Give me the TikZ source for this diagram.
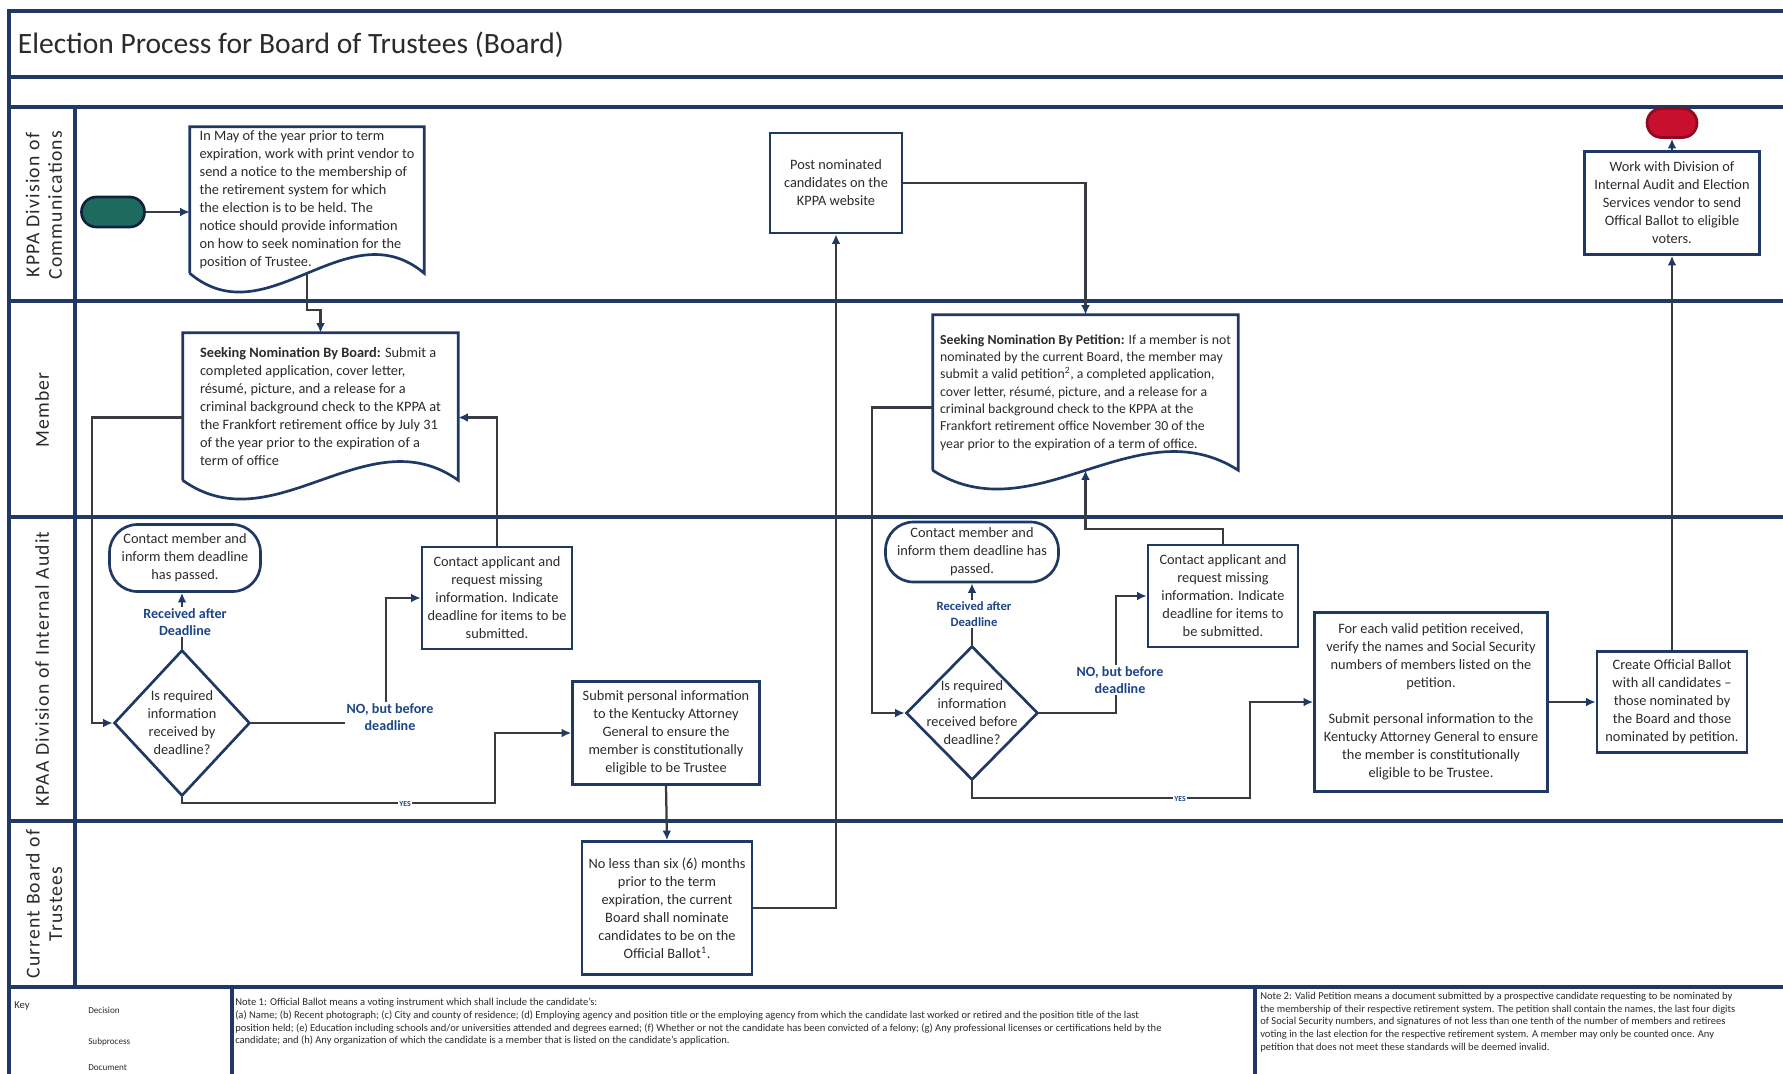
\documentclass[tikz,border=0pt]{standalone}
\usepackage{fontspec}
\setmainfont{Carlito}
\newfontfamily\lanefont[LetterSpace=6]{Carlito}
\usetikzlibrary{shapes.geometric,arrows.meta,calc}
\definecolor{navy}{HTML}{1F3864}
\definecolor{linec}{HTML}{383B42}
\definecolor{textc}{HTML}{2B2B2B}
\definecolor{lblblue}{HTML}{1C4587}
\definecolor{startgreen}{HTML}{1D6B5E}
\definecolor{endred}{HTML}{C8102E}

\begin{document}
\begin{tikzpicture}[x=0.25mm, y=-0.25mm,
    every node/.style={text=textc, font=\fontsize{10.2}{12.8}\selectfont},
    lane/.style={draw=navy, line width=2.2pt},
    box/.style={draw=navy, line width=1.9pt, fill=white, align=center, inner sep=1pt},
    doc/.style={align=left, inner sep=1pt},
    docline/.style={draw=navy, line width=1.9pt},
    term/.style={box, rounded corners=7mm},
    dec/.style={diamond, draw=navy, line width=1.9pt, fill=white, inner sep=0pt},
    lanelbl/.style={rotate=90, align=center, font=\lanefont\fontsize{14}{16}\selectfont},
    lbl/.style={fill=white, align=center, text=lblblue, inner sep=1pt, font=\bfseries\fontsize{10}{12.6}\selectfont},
    yeslbl/.style={lbl, font=\bfseries\fontsize{5.5}{6}\selectfont},
    flow/.style={draw=linec, line width=1.6pt, -{Latex[length=2.4mm, width=2.2mm, color=navy]}},
    note/.style={anchor=north west, align=left, inner sep=0pt, font=\fontsize{7.5}{9}\selectfont}]
  \useasboundingbox (0,0) rectangle (1783,1073);
  \fill[white] (0,0) rectangle (1783,1073);

  % Frame and swimlanes
  \draw[lane] (9,1080) -- (9,11) -- (1790,11);
  \draw[lane] (9,77) -- (1790,77);
  \draw[lane] (9,107) -- (1790,107);
  \foreach \yy in {301,517,821,987} {
    \draw[lane] (9,\yy) -- (1790,\yy);
  }
  \draw[lane] (75,107) -- (75,987);
  \draw[lane] (232,987) -- (232,1080);
  \draw[lane] (1255,987) -- (1255,1080);

  \node[anchor=west, font=\fontsize{21}{25}\selectfont] (title) at (13,45) {Election Process for Board of Trustees (Board)};

  \node[lanelbl] (lane1) at (44,205) {KPPA Division of\\Communications};
  \node[lanelbl] (lane2) at (42,410) {Member};
  \node[lanelbl] (lane3) at (42,669) {KPAA Division of Internal Audit};
  \node[lanelbl] (lane4) at (44,904) {Current Board of\\Trustees};

  % Nomination by the Board
  \node[term, fill=startgreen, draw=navy!60!black, minimum width=15.75mm, minimum height=7.5mm, rounded corners=3.7mm] (start) at (113,212) {};
  \node[doc, minimum width=58.5mm, minimum height=36.5mm] (doc1) at (307,200) {In May of the year prior to term\\expiration, work with print vendor to\\send a notice to the membership of\\the retirement system for which\\the election is to be held. The\\notice should provide information\\on how to seek nomination for the\\position of Trustee.};
  \node[doc, minimum width=68.75mm, minimum height=36.75mm] (doc2) at (320.5,406.5) {\textbf{Seeking Nomination By Board:} Submit a\\completed application, cover letter,\\résumé, picture, and a release for a\\criminal background check to the KPPA at\\the Frankfort retirement office by July 31\\of the year prior to the expiration of a\\term of office};
  \node[term, minimum width=37.75mm, minimum height=16.75mm] (term1) at (185,558) {Contact member and\\inform them deadline\\has passed.};
  \node[dec, minimum width=34mm, minimum height=36.5mm, label={[align=center]center:{Is required\\information\\received by\\deadline?}}] (dia1) at (182,723) {};
  \node[box, minimum width=37.5mm, minimum height=25.5mm] (cap1) at (497,598) {Contact applicant and\\request missing\\information. Indicate\\deadline for items to be\\submitted.};
  \node[box, minimum width=46.75mm, minimum height=25.75mm] (sub) at (666,733) {Submit personal information\\to the Kentucky Attorney\\General to ensure the\\member is constitutionally\\eligible to be Trustee};
  \node[box, minimum width=42.5mm, minimum height=33.25mm] (board) at (667,908) {No less than six (6) months\\prior to the term\\expiration, the current\\Board shall nominate\\candidates to be on the\\Official Ballot\textsuperscript{1}.};
  \node[box, minimum width=33mm, minimum height=25mm] (post) at (836,183) {Post nominated\\candidates on the\\KPPA website};

  % Nomination by petition
  \node[doc, font=\fontsize{9.8}{12.3}\selectfont, minimum width=76.25mm, minimum height=38.75mm] (doc3) at (1085.5,392.5) {\textbf{Seeking Nomination By Petition:} If a member is not\\nominated by the current Board, the member may\\submit a valid petition\textsuperscript{2}, a completed application,\\cover letter, résumé, picture, and a release for a\\criminal background check to the KPPA at the\\Frankfort retirement office  November 30 of the\\year prior to the expiration of a term of office.};
  \node[term, minimum width=43.25mm, minimum height=15mm] (term2) at (972,552) {Contact member and\\inform them deadline has\\passed.};
  \node[dec, minimum width=33mm, minimum height=33.5mm, label={[align=center]center:{Is required\\information\\received before\\deadline?}}] (dia2) at (972,713) {};
  \node[box, minimum width=37.5mm, minimum height=25.5mm] (cap2) at (1223,596) {Contact applicant and\\request missing\\information. Indicate\\deadline for items to\\be submitted.};
  \node[box, minimum width=58.25mm, minimum height=44.75mm] (each) at (1431,702) {For each valid petition received,\\verify the names and Social Security\\numbers of members listed on the\\petition.\\[12.8pt]Submit personal information to the\\Kentucky Attorney General to ensure\\the member is constitutionally\\eligible to be Trustee.};
  \node[box, minimum width=37.5mm, minimum height=25.25mm] (create) at (1672,702) {Create Official Ballot\\with all candidates --\\those nominated by\\the Board and those\\nominated by petition.};
  \node[box, minimum width=43.75mm, minimum height=25.75mm] (work) at (1672,203) {Work with Division of\\Internal Audit and Election\\Services vendor to send\\Offical Ballot to eligible\\voters.};
  \node[term, fill=endred, draw=endred!70!black, minimum width=12.5mm, minimum height=7.25mm, rounded corners=3.6mm] (end) at (1672,123) {};

  % Document outlines
  \foreach \d in {doc1,doc2,doc3} {
    \draw[docline] (\d.south west) -- (\d.north west) -- (\d.north east) -- (\d.south east)
      .. controls ($(\d.south east)!.33!(\d.south west)+(0,-65)$) and ($(\d.south east)!.67!(\d.south west)+(0,65)$) .. (\d.south west);
  }

  % Connectors
  \draw[flow] (start.east) -- (start.east -| doc1.west);
  \draw[flow] (doc1.south) -- ++(0,37) -| (doc2.north);
  \draw[flow] (cap1.north) |- ($(doc2.east)+(0,11)$);
  \draw[flow] ($(doc2.west)+(0,11)$) -| ($(dia1.west)+(-21,0)$) -- (dia1.west);
  \draw[flow] (dia1.north) -- (dia1.north |- term1.south);
  \draw[flow] (dia1.east) -| ($(cap1.west)+(-35,0)$) -- (cap1.west);
  \draw[flow] (dia1.south) -- ++(0,6) -| ($(sub.west)+(-76,0)$) -- (sub.west);
  \draw[flow] (sub.south) -- (board.north);
  \draw[flow] (board.east) -| (post.south);
  \draw[flow] (post.east) -| (doc3.north);
  \draw[flow] ($(doc3.west)+(0,15)$) -| ($(dia2.west)+(-33,0)$) -- (dia2.west);
  \draw[flow] (dia2.north) -- (term2.south);
  \draw[flow] (dia2.east) -| ($(cap2.west)+(-31,0)$) -- (cap2.west);
  \draw[flow] (cap2.north) -- ++(0,-15) -| (doc3.south);
  \draw[flow] (dia2.south) -- ++(0,17) -| ($(each.west)+(-63,0)$) -- (each.west);
  \draw[flow] (each.east) -- (create.west);
  \draw[flow] (create.north) -- (work.south);
  \draw[flow] (work.north) -- (end.south);

  % Connector labels
  \node[lbl] (rcv1) at (185,622) {Received after\\Deadline};
  \node[lbl] (nob1) at (390,717) {NO, but before\\deadline};
  \node[yeslbl] (yes1) at (405,804) {YES};
  \node[lbl, font=\bfseries\fontsize{9}{11.5}\selectfont] (rcv2) at (974,614) {Received after\\Deadline};
  \node[lbl] (nob2) at (1120,680) {NO, but before\\deadline};
  \node[yeslbl] (yes2) at (1180,799) {YES};

  % Key and notes
  \node[note] (keyhdr) at (14,1001) {Key};
  \node[note, font=\fontsize{6.5}{8}\selectfont] (kdec) at (88,1007) {Decision};
  \node[note, font=\fontsize{6.5}{8}\selectfont] (ksub) at (88,1038) {Subprocess};
  \node[note, font=\fontsize{6.5}{8}\selectfont] (kdoc) at (88,1064) {Document};
  \node[note] (note1) at (235,998) {Note 1: Official Ballot means a voting instrument which shall include the candidate's:\\(a) Name; (b) Recent photograph; (c) City and county of residence; (d) Employing agency and position title or the employing agency from which the candidate last worked or retired and the position title of the last\\position held; (e) Education including schools and/or universities attended and degrees earned; (f) Whether or not the candidate has been convicted of a felony; (g) Any professional licenses or certifications held by the\\candidate; and (h) Any organization of which the candidate is a member that is listed on the candidate's application.};
  \node[note] (note2) at (1260,992) {Note 2: Valid Petition means a document submitted by a prospective candidate requesting to be nominated by\\the membership of their respective retirement system. The petition shall contain the names, the last four digits\\of Social Security numbers, and signatures of not less than one tenth of the number of members and retirees\\voting in the last election for the respective retirement system. A member may only be counted once. Any\\petition that does not meet these standards will be deemed invalid.};
\end{tikzpicture}
\end{document}
